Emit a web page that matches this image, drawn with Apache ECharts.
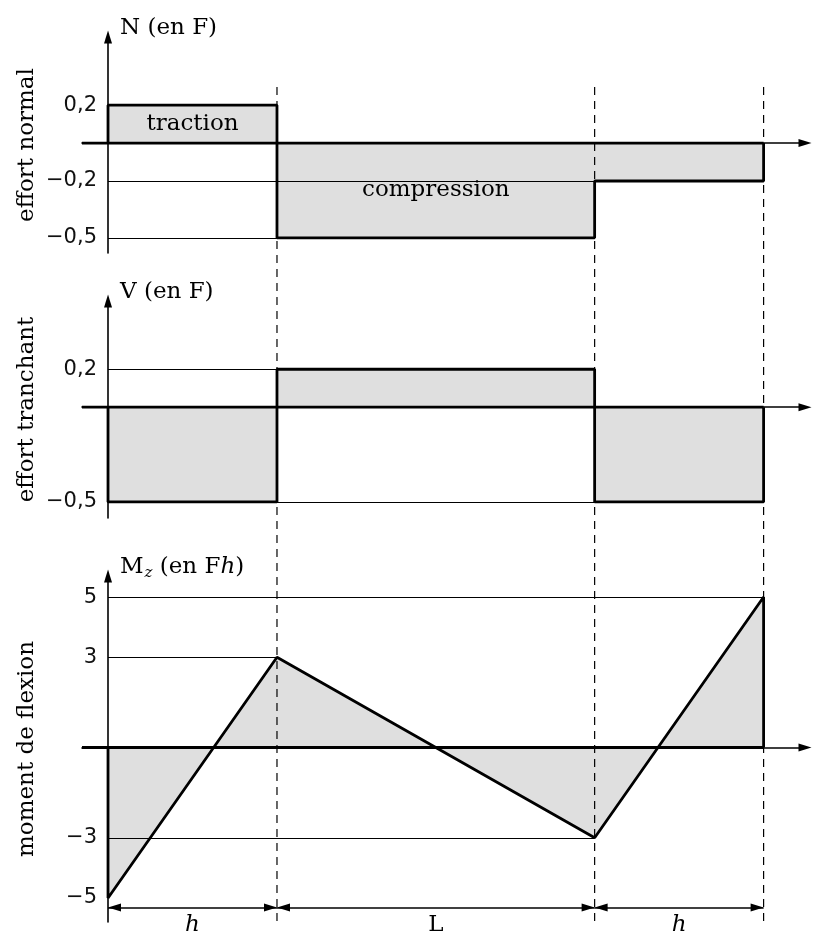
<!DOCTYPE html>
<html>
<head>
<meta charset="utf-8">
<script src="https://cdn.jsdelivr.net/npm/echarts@6.0.0/dist/echarts.min.js"></script>
<style>
  html, body { margin: 0; padding: 0; background: #fff; }
  #chart { width: 815px; height: 940px; }
</style>
</head>
<body>
<div id="chart"></div>
<script>
// travées (en h) : h, L, h
var h = 1;
var L = 1.88;
var xBreaks = [0, h, h + L, 2 * h + L];
var spanNames = ['h', 'L', 'h'];

// effort normal N (en F), une valeur par travée
var nValues = [0.2, -0.5, -0.2];
var nTicks = [0.2, -0.2, -0.5];
var nZones = ['traction', 'compression'];

// effort tranchant V (en F), une valeur par travée
var vValues = [-0.5, 0.2, -0.5];
var vTicks = [0.2, -0.5];

// moment de flexion Mz (en Fh), valeur à chaque point xBreaks
var mValues = [-5, 3, -3, 5];
var mTicks = [5, 3, -3, -5];

var serif = 'DejaVu Serif';
var sans = 'DejaVu Sans';
var fill = '#dfdfdf';
var xMin = -0.154, xMax = 4.125;
var xEnd = xBreaks[xBreaks.length - 1];

// mise en page des 3 graphes
var panels = [
  { top: 37, height: 216, min: -0.58, max: 0.56, ticks: nTicks,
    name: 'N (en F)', side: 'effort normal' },
  { top: 301, height: 217, min: -0.585, max: 0.56, ticks: vTicks,
    name: 'V (en F)', side: 'effort tranchant' },
  { top: 576, height: 346, min: -5.8, max: 5.7, ticks: mTicks,
    name: '{m|M}{z|z} (en F{i|h})', side: 'moment de flexion' }
];

function fmt(v) {
  return (v < 0 ? '\u2212' : '') + String(Math.abs(v)).replace('.', ',');
}

// points d'un diagramme en escalier
function stepPoints(values) {
  var pts = [[xBreaks[0], 0]];
  values.forEach(function (v, i) {
    pts.push([xBreaks[i], v], [xBreaks[i + 1], v]);
  });
  pts.push([xEnd, 0]);
  return pts;
}

// points d'un diagramme linéaire par morceaux
function linePoints(values) {
  var pts = [[xBreaks[0], 0]];
  values.forEach(function (v, i) { pts.push([xBreaks[i], v]); });
  pts.push([xEnd, 0]);
  return pts;
}

// traits fins de rappel : de l'axe jusqu'au début de la valeur
function guides(values) {
  var out = [];
  values.forEach(function (v, i) {
    if (xBreaks[i] > 0) out.push([{ coord: [0, v] }, { coord: [xBreaks[i], v] }]);
  });
  return out;
}

var grids = panels.map(function (p) {
  return { left: 82, right: 10, top: p.top, height: p.height,
           containLabel: false, outerBoundsMode: 'none' };
});
grids.push({ left: 82, right: 10, top: 87, bottom: 13,
             containLabel: false, outerBoundsMode: 'none' });

var xAxes = panels.map(function (p, i) {
  return {
    type: 'value', gridIndex: i, min: xMin, max: xMax,
    axisLine: {
      show: true, onZero: true, onZeroAxisIndex: i,
      symbol: ['none', 'triangle'], symbolSize: [8, 13],
      lineStyle: { color: '#000', width: 1.6 }
    },
    axisTick: { show: false }, axisLabel: { show: false }, splitLine: { show: false }
  };
});
xAxes.push({ type: 'value', gridIndex: 3, min: xMin, max: xMax, show: false });

var yAxes = panels.map(function (p, i) {
  return {
    type: 'value', gridIndex: i, position: 'left', min: p.min, max: p.max,
    axisLine: {
      show: true, onZero: true,
      symbol: ['none', 'triangle'], symbolSize: [8, 13],
      lineStyle: { color: '#000', width: 1.6 }
    },
    axisTick: { show: false }, splitLine: { show: false },
    axisLabel: {
      customValues: p.ticks, formatter: fmt, margin: -15,
      fontFamily: sans, fontSize: 21, color: '#111'
    },
    name: p.name, nameLocation: 'end', nameGap: 9,
    nameTextStyle: {
      fontFamily: serif, fontSize: 23, color: '#000',
      align: 'left', verticalAlign: 'middle', padding: [0, 0, 0, 12],
      rich: {
        m: { fontFamily: serif, fontSize: 23, color: '#000' },
        z: { fontFamily: serif, fontSize: 15, fontStyle: 'italic', color: '#000',
             verticalAlign: 'bottom', padding: [12, 0, 0, 1] },
        i: { fontFamily: serif, fontSize: 23, fontStyle: 'italic', color: '#000' }
      }
    }
  };
});
panels.forEach(function (p, i) {
  yAxes.push({
    type: 'value', gridIndex: i, position: 'left', min: p.min, max: p.max,
    axisLine: { show: false, onZero: false },
    axisTick: { show: false }, axisLabel: { show: false }, splitLine: { show: false },
    name: p.side, nameLocation: 'middle', nameGap: 43,
    nameTextStyle: { fontFamily: serif, fontSize: 23, color: '#000' }
  });
});
yAxes.push({ type: 'value', gridIndex: 3, min: 0, max: 1, show: false });

var outline = { color: '#000', width: 2.8 };
var guideStyle = { color: '#000', width: 1.2, type: 'solid' };

function diagram(i, data, guideData) {
  return {
    type: 'line', xAxisIndex: i, yAxisIndex: i, data: data,
    symbol: 'none', silent: true, z: 3,
    lineStyle: outline,
    areaStyle: { color: fill, opacity: 1 },
    markLine: {
      silent: true, symbol: 'none', label: { show: false },
      lineStyle: guideStyle, data: guideData
    }
  };
}

function baseline(i) {
  return {
    type: 'line', xAxisIndex: i, yAxisIndex: i, symbol: 'none', silent: true, z: 4,
    data: [[xMin, 0], [xEnd, 0]], lineStyle: outline
  };
}

var series = [
  diagram(0, stepPoints(nValues), guides(nValues)),
  diagram(1, stepPoints(vValues), guides(vValues)),
  diagram(2, linePoints(mValues), guides(mValues)),
  baseline(0), baseline(1), baseline(2)
];

// étiquettes traction / compression au centre des zones
series.push({
  type: 'scatter', xAxisIndex: 0, yAxisIndex: 0, symbolSize: 0, silent: true, z: 6,
  itemStyle: { opacity: 1 },
  data: nZones.map(function (name, i) {
    return { name: name, value: [(xBreaks[i] + xBreaks[i + 1]) / 2, nValues[i] / 2] };
  }),
  label: {
    show: true, position: 'inside', formatter: '{b}',
    fontFamily: serif, fontSize: 23, color: '#000'
  }
});

// traits pointillés verticaux (tracés du haut vers le bas)
xBreaks.slice(1).forEach(function (x) {
  series.push({
    type: 'line', xAxisIndex: 3, yAxisIndex: 6, symbol: 'none', silent: true, z: 5,
    data: [[x, 1], [x, 0]],
    lineStyle: { color: '#000', width: 1.2, type: [8, 6] }
  });
});

// cotes h, L, h sous le diagramme du moment
var dimY = -5.32;
function dimEnd(x) {
  return { coord: [x, dimY], symbol: 'triangle', symbolSize: [8, 13], symbolOffset: [0, 6.5] };
}
series.push({
  type: 'line', xAxisIndex: 2, yAxisIndex: 2, data: [], silent: true,
  markLine: {
    silent: true,
    lineStyle: { color: '#000', width: 1.6, type: 'solid' },
    data: spanNames.map(function (name, i) {
      var from = dimEnd(xBreaks[i]);
      from.label = {
        show: true, formatter: name, position: 'insideMiddleBottom', distance: 6,
        fontFamily: serif, fontSize: 23, color: '#000',
        fontStyle: name === 'h' ? 'italic' : 'normal'
      };
      return [from, dimEnd(xBreaks[i + 1])];
    })
  }
});

var chart = echarts.init(document.getElementById('chart'));
chart.setOption({
  animation: false,
  backgroundColor: '#fff',
  grid: grids,
  xAxis: xAxes,
  yAxis: yAxes,
  series: series
});
</script>
</body>
</html>
